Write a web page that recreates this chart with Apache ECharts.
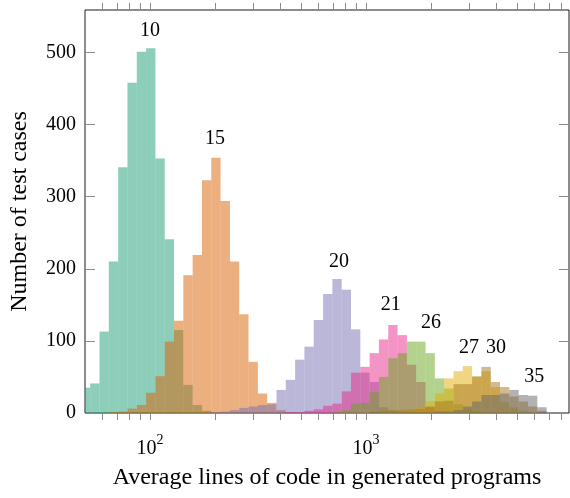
<!DOCTYPE html>
<html><head><meta charset="utf-8">
<script src="https://cdn.jsdelivr.net/npm/echarts@6/dist/echarts.min.js"></script>
<style>html,body{margin:0;padding:0;background:#fff}#c{width:570px;height:498px}</style>
</head><body><div id="c"></div>
<script>
// ---- data ----
const seriesNames = ['10', '15', '20', '21', '26', '27', '30', '35'];
const seriesColors = ['#1b9e77', '#d95f02', '#7570b3', '#e7298a', '#66a61e', '#e6ab02', '#a6761d', '#666666'];
// histogram bins: equal width in log10 space
const binLog0 = 1.6799;      // log10 of left edge of first bin
const binLogWidth = 0.04312; // bin width in log10 units
const binCount = 50;
const counts10 = [35,41,113,210,341,458,501,506,353,241, 115,39,11,3,0,0,0,0,0,0, 0,0,0,0,0,0,0,0,0,0, 0,0,0,0,0,0,0,0,0,0, 0,0,0,0,0,0,0,0,0,0];
const counts15 = [0,0,0,1,2,6,11,28,51,99, 128,191,219,323,354,294,210,137,71,27, 14,4,1,0,0,0,0,0,0,0, 0,0,0,0,0,0,0,0,0,0, 0,0,0,0,0,0,0,0,0,0];
const counts20 = [0,0,0,0,0,0,0,0,0,0, 0,0,0,0,1,2,4,7,9,11, 12,32,46,74,92,129,165,186,171,116, 56,43,8,3,1,0,0,0,0,0, 0,0,0,0,0,0,0,0,0,0];
const counts21 = [0,0,0,0,0,0,0,0,0,0, 0,0,0,0,0,0,0,0,0,0, 0,0,1,1,3,5,10,13,30,56, 64,83,102,122,108,67,43,8,2,0, 0,0,0,0,0,0,0,0,0,0];
const counts26 = [0,0,0,0,0,0,0,0,0,0, 0,0,0,0,0,0,0,0,0,0, 0,0,0,0,0,0,0,1,4,13, 14,29,50,76,83,99,99,83,48,34, 12,5,2,0,0,0,0,0,0,0];
const counts27 = [0,0,0,0,0,0,0,0,0,0, 0,0,0,0,0,0,0,0,0,0, 0,0,0,0,0,0,0,0,0,0, 0,0,1,1,2,4,7,16,27,48, 58,65,50,58,36,15,8,3,1,0];
const counts30 = [0,0,0,0,0,0,0,0,0,0, 0,0,0,0,0,0,0,0,0,0, 0,0,0,0,0,0,0,0,0,0, 0,2,3,4,4,5,6,9,16,17, 40,40,51,64,43,36,23,16,9,3];
const counts35 = [0,0,0,0,0,0,0,0,0,0, 0,0,0,0,0,0,0,0,0,0, 0,0,0,0,0,0,0,0,0,0, 0,1,1,1,1,1,1,1,2,2, 4,9,16,25,25,27,32,25,24,8];
const allCounts = [counts10, counts15, counts20, counts21, counts26, counts27, counts30, counts35];
// peak annotations (data coordinates)
const labelX = [100, 200, 750, 1300, 2000, 3000, 4000, 6000];
const labelY = [530, 380, 210, 150, 125, 90, 90, 50];
// axes
const xMin = 50, xMax = 8700;
const yMin = 0, yMax = 559;
const xLabelValues = [100, 1000];
const xTickValues = [60,70,80,90,100,200,300,400,500,600,700,800,900,1000,2000,3000,4000,5000,6000,7000,8000];
const yTickValues = [0, 100, 200, 300, 400, 500];

// ---- chart ----
const FONT = '"Liberation Serif", "Times New Roman", serif';
const binEdges = [];
for (let k = 0; k <= binCount; k++) binEdges.push(Math.pow(10, binLog0 + k * binLogWidth));

function rgba(hex, a) {
  const n = parseInt(hex.slice(1), 16);
  return `rgba(${(n >> 16) & 255},${(n >> 8) & 255},${n & 255},${a})`;
}
function histData(counts) {
  return counts.map((c, i) => [binEdges[i], binEdges[i + 1], c]).filter(d => d[2] > 0);
}
function barRenderer(fill) {
  return function (params, api) {
    const p0 = api.coord([api.value(0), api.value(2)]);
    const p1 = api.coord([api.value(1), 0]);
    const cs = params.coordSys;
    const shape = echarts.graphic.clipRectByRect(
      { x: p0[0], y: p0[1], width: p1[0] - p0[0], height: p1[1] - p0[1] },
      { x: cs.x, y: cs.y, width: cs.width, height: cs.height });
    if (!shape) return;
    return { type: 'rect', shape: shape, style: { fill: fill } };
  };
}

const series = allCounts.map((counts, s) => ({
  name: seriesNames[s],
  type: 'custom',
  data: histData(counts),
  encode: { x: [0, 1], y: 2 },
  renderItem: barRenderer(rgba(seriesColors[s], 0.5)),
  silent: true,
  z: 2
}));

series.push({
  type: 'custom',
  data: xTickValues.map(v => [v, 0]),
  encode: { x: 0, y: 1 },
  silent: true,
  z: 5,
  renderItem: function (params, api) {
    const v = api.value(0);
    const pb = api.coord([v, yMin]);
    const pt = api.coord([v, yMax]);
    const x = Math.round(pb[0]) + 0.5;
    return { type: 'group', children: [
      { type: 'line', shape: { x1: x, y1: pb[1], x2: x, y2: pb[1] + 7 }, style: { stroke: '#8a8a8a', lineWidth: 1 } },
      { type: 'line', shape: { x1: x, y1: pt[1], x2: x, y2: pt[1] - 7 }, style: { stroke: '#8a8a8a', lineWidth: 1 } }
    ] };
  }
});

series.push({
  type: 'custom',
  data: labelX.map((x, i) => [x, labelY[i], i]),
  encode: { x: 0, y: 1 },
  silent: true,
  z: 6,
  renderItem: function (params, api) {
    const p = api.coord([api.value(0), api.value(1)]);
    return { type: 'text', x: p[0], y: p[1], style: {
      text: seriesNames[api.value(2)], fill: '#000', fontSize: 20, fontFamily: FONT,
      align: 'center', verticalAlign: 'middle' } };
  }
});

const chart = echarts.init(document.getElementById('c'), null, { renderer: 'canvas' });
chart.setOption({
  animation: false,
  backgroundColor: '#fff',
  grid: { left: 84, top: 10, width: 485, height: 403, show: true, borderColor: '#1a1a1a', borderWidth: 1, backgroundColor: 'transparent' },
  xAxis: {
    type: 'log', logBase: 10, min: xMin, max: xMax,
    axisLine: { show: false },
    axisTick: { show: false },
    splitLine: { show: false },
    minorTick: { show: false },
    axisLabel: {
      customValues: xLabelValues,
      margin: 20,
      formatter: v => `{b|10}{s|${Math.round(Math.log10(v))}}`,
      rich: {
        b: { fontSize: 20, fontFamily: FONT, color: '#000', lineHeight: 26, verticalAlign: 'bottom' },
        s: { fontSize: 14, fontFamily: FONT, color: '#000', lineHeight: 26, verticalAlign: 'top' }
      }
    },
    name: 'Average lines of code in generated programs',
    nameLocation: 'middle', nameGap: 53,
    nameTextStyle: { fontSize: 24, fontFamily: FONT, color: '#000' }
  },
  yAxis: [{
    type: 'value', min: yMin, max: yMax, position: 'left',
    axisLine: { show: false },
    axisTick: { show: true, inside: true, length: 10, customValues: yTickValues, lineStyle: { color: '#8a8a8a' } },
    splitLine: { show: false },
    axisLabel: { customValues: yTickValues, margin: 9, fontSize: 20, fontFamily: FONT, color: '#000' },
    name: 'Number of test cases', nameLocation: 'middle', nameGap: 53, nameRotate: 90,
    nameTextStyle: { fontSize: 24, fontFamily: FONT, color: '#000' }
  }, {
    type: 'value', min: yMin, max: yMax, position: 'right',
    axisLine: { show: false },
    axisTick: { show: true, inside: true, length: 10, customValues: yTickValues, lineStyle: { color: '#8a8a8a' } },
    splitLine: { show: false },
    axisLabel: { show: false }
  }],
  series: series
});
</script>
</body></html>
